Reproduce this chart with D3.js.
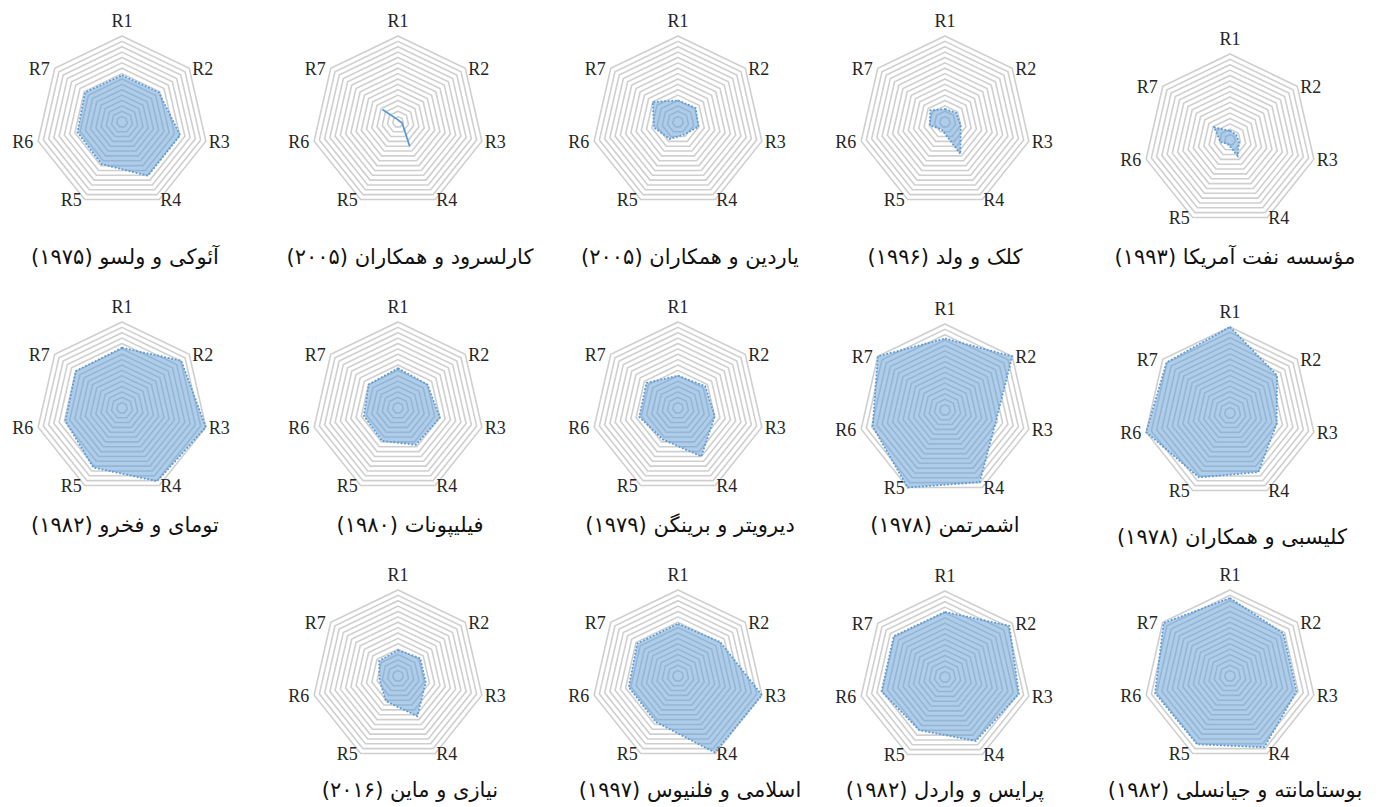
<!DOCTYPE html>
<html><head><meta charset="utf-8">
<script src="https://cdn.jsdelivr.net/npm/d3@7"></script>
<style>
html,body{margin:0;padding:0;background:#fff;}
svg{display:block;}
</style></head>
<body>
<svg id="chart" width="1381" height="807"></svg>
<script>
// ---- data ----
const axes = ["R1","R2","R3","R4","R5","R6","R7"];
const titles = [
  "آئوکی و ولسو (۱۹۷۵)",
  "کارلسرود و همکاران (۲۰۰۵)",
  "یاردین و همکاران (۲۰۰۵)",
  "کلک و ولد (۱۹۹۶)",
  "مؤسسه نفت آمریکا (۱۹۹۳)",
  "تومای و فخرو (۱۹۸۲)",
  "فیلیپونات (۱۹۸۰)",
  "دیرویتر و برینگن (۱۹۷۹)",
  "اشمرتمن (۱۹۷۸)",
  "کلیسبی و همکاران (۱۹۷۸)",
  "نیازی و ماین (۲۰۱۶)",
  "اسلامی و فلنیوس (۱۹۹۷)",
  "پرایس و واردل (۱۹۸۲)",
  "بوستامانته و جیانسلی (۱۹۸۲)"
];
const aokiVelsu      = [8.7, 8.8, 11.1, 11.1, 8.7, 8.5, 8.8];
const karlsrud       = [0.4, 0.3, 0.8, 5.0, null, null, 3.7];
const yardin         = [4.0, 4.2, 3.9, 2.6, 3.5, 4.6, 6.0];
const kulhawyMayne   = [2.4, 2.7, 3.0, 6.6, 1.5, 2.9, 3.5];
const api1993        = [1.7, 1.5, 1.7, 3.3, 0.8, 1.8, 3.8];
const toumayFakhroo  = [11.2, 14.1, 16.0, 15.1, 12.3, 10.8, 11.0];
const philipponnat   = [7.4, 7.0, 8.0, 7.6, 6.8, 6.5, 7.0];
const deRuiter       = [6.0, 6.5, 7.0, 10.0, 6.5, 7.4, 7.5];
const schmertmann    = [13.3, 16.0, 9.7, 14.9, 16.0, 13.8, 16.0];
const clisby         = [16.0, 11.2, 8.9, 12.2, 13.3, 16.0, 15.1];
const niaziMayne     = [4.8, 5.3, 5.3, 8.3, 5.2, 3.5, 4.5];
const eslamiFellenius= [9.7, 10.1, 16.0, 15.8, 9.5, 9.4, 9.7];
const priceWardle    = [12.1, 15.3, 14.1, 13.2, 11.0, 12.1, 12.2];
const bustamante     = [14.5, 12.7, 12.7, 14.7, 14.1, 14.3, 15.8];
const seriesList = [aokiVelsu, karlsrud, yardin, kulhawyMayne, api1993,
  toumayFakhroo, philipponnat, deRuiter, schmertmann, clisby,
  niaziMayne, eslamiFellenius, priceWardle, bustamante];
const ringValues = d3.range(1, 17);
const maxValue = 16;

// ---- layout ----
const colX = [122, 398, 678, 945, 1230];
const rowY = [122, 408, 676];
const panels = [
  {c:0,r:0,dy:0,tdx:3,ty:257},{c:1,r:0,dy:0,tdx:12,ty:257},{c:2,r:0,dy:0,tdx:12,ty:257},
  {c:3,r:0,dy:0,tdx:0,ty:257},{c:4,r:0,dy:18,tdx:5,ty:257},
  {c:0,r:1,dy:0,tdx:3,ty:525},{c:1,r:1,dy:0,tdx:12,ty:525},{c:2,r:1,dy:0,tdx:12,ty:525},
  {c:3,r:1,dy:2,tdx:0,ty:525},{c:4,r:1,dy:5,tdx:2,ty:537},
  {c:1,r:2,dy:0,tdx:12,ty:790},{c:2,r:2,dy:0,tdx:12,ty:790},
  {c:3,r:2,dy:1,tdx:0,ty:790},{c:4,r:2,dy:0,tdx:5,ty:790}
];
const R = 86;

const svg = d3.select("#chart");
const rScale = d3.scaleLinear().domain([0, maxValue]).range([0, R]);
const angle = d3.scalePoint().domain(axes.concat(["_end"])).range([0, 2*Math.PI]);
const pt = (ax, v) => {
  const a = angle(ax), r = rScale(v);
  return [r*Math.sin(a), -r*Math.cos(a)];
};
const radial = d3.lineRadial().angle(d => angle(d.ax)).radius(d => rScale(d.v));

panels.forEach((p, i) => {
  const cx = colX[p.c], cy = rowY[p.r] + p.dy;
  const g = svg.append("g").attr("transform", `translate(${cx},${cy})`);
  // grid rings
  g.selectAll("path.ring").data(ringValues).enter().append("path")
    .attr("class","ring")
    .attr("d", v => radial.curve(d3.curveLinearClosed)(axes.map(ax => ({ax, v}))))
    .attr("fill","none").attr("stroke","#cfcfcf").attr("stroke-width",1.6);
  // labels
  axes.forEach((ax, k) => {
    const [vx, vy] = pt(ax, maxValue);
    const t = g.append("text").text(ax)
      .attr("font-family","'Liberation Serif', 'Times New Roman', serif")
      .attr("font-size", 18).attr("fill","#262626");
    if (k === 0) {
      t.attr("x", vx).attr("y", vy - 9).attr("text-anchor","middle");
    } else if (k <= 3) {
      t.attr("x", vx + (k===3?1:3)).attr("y", vy + 1).attr("text-anchor","start").attr("dominant-baseline","central");
    } else {
      t.attr("x", vx - (k===4?3:5)).attr("y", vy + 1).attr("text-anchor","end").attr("dominant-baseline","central");
    }
  });
  // series
  const vals = seriesList[i];
  const pts = axes.map((ax, k) => ({ax, v: vals[k]}));
  if (vals.some(v => v === null)) {
    const order = [6,0,1,2,3].map(k => pts[k]).filter(d => d.v !== null);
    const line = d3.line().x(d => pt(d.ax, d.v)[0]).y(d => pt(d.ax, d.v)[1]);
    g.append("path").attr("d", line(order))
      .attr("fill","none").attr("stroke","#5b9bd5").attr("stroke-width",1.8);
  } else {
    g.append("path").attr("d", radial.curve(d3.curveLinearClosed)(pts))
      .attr("fill","#5b9bd5").attr("fill-opacity",0.5)
      .attr("stroke","#5b9bd5").attr("stroke-width",1.8)
      .attr("stroke-dasharray","1.8,1.8");
  }
  // title
  svg.append("text").text(titles[i])
    .attr("x", cx + p.tdx).attr("y", p.ty)
    .attr("text-anchor","middle").attr("dominant-baseline","central")
    .attr("direction","rtl")
    .attr("font-family","'DejaVu Sans', 'Noto Sans', sans-serif")
    .attr("font-size", 21).attr("fill","#111");
});
</script>
</body></html>
